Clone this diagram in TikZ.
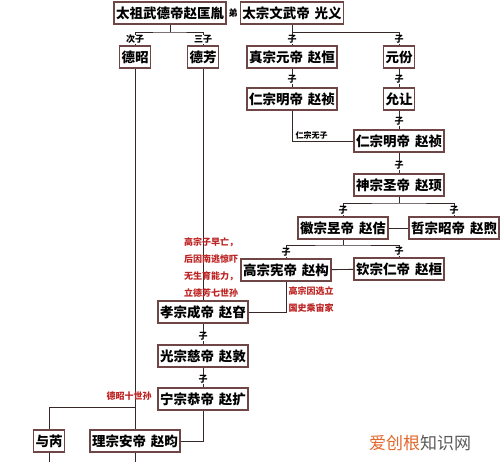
\documentclass[tikz,border=0pt]{standalone}
\usepackage{fontspec}
\usepackage{tikz}
\usetikzlibrary{positioning}
\newfontfamily\cjk{Noto Sans CJK SC}
\definecolor{boxline}{RGB}{110,70,70}
\definecolor{linkline}{RGB}{55,40,40}
\definecolor{notered}{RGB}{190,35,35}
\definecolor{markorange}{RGB}{226,104,44}
\definecolor{markgray}{RGB}{90,90,90}
\newcommand{\gap}{\hspace{5pt}}

\begin{document}
\begin{tikzpicture}[x=1pt,y=-1pt,
    person/.style={draw=boxline,line width=1.1pt,fill=white,minimum height=22pt,inner xsep=2pt,inner ysep=1pt,font=\cjk\bfseries\fontsize{13.5}{13.5}\selectfont},
    sonlab/.style={fill=white,inner sep=0.5pt,font=\cjk\bfseries\fontsize{9}{9}\selectfont},
    note/.style={text=notered,align=center,inner sep=0pt,font=\cjk\bfseries\fontsize{9}{17}\selectfont},
    link/.style={draw=linkline,line width=0.9pt}]
    \fill[white] (0,0) rectangle (500,462);
    \useasboundingbox (0,0) rectangle (500,462);
    \node [person,minimum width=109pt] (taizu) at (170,13) {太祖武德帝赵匡胤};
    \node [person,minimum width=99pt] (taizong) at (292,13) {太宗文武帝\gap 光义};
    \node [person,minimum width=30pt] (dezhao) at (135,57) {德昭};
    \node [person,minimum width=30pt] (defang) at (203,57) {德芳};
    \node [person,minimum width=89pt] (zhenzong) at (292,57) {真宗元帝\gap 赵恒};
    \node [person,minimum width=28pt] (yuanfen) at (399,57) {元份};
    \node [person,minimum width=89pt] (renzong) at (292,99) {仁宗明帝\gap 赵祯};
    \node [person,minimum width=28pt] (yunrang) at (399,99) {允让};
    \node [person,minimum width=85pt] (yingzong) at (399,141) {仁宗明帝\gap 赵祯};
    \node [person,minimum width=85pt] (shenzong) at (399,185) {神宗圣帝\gap 赵顼};
    \node [person,minimum width=89pt] (huizong) at (343,228) {徽宗昱帝\gap 赵佶};
    \node [person,minimum width=88pt] (zhezong) at (454,228) {哲宗昭帝\gap 赵煦};
    \node [person,minimum width=88pt] (gaozong) at (286,270) {高宗宪帝\gap 赵构};
    \node [person,minimum width=88pt] (qinzong) at (399,269) {钦宗仁帝\gap 赵桓};
    \node [person,minimum width=86pt] (xiaozong) at (203,312) {孝宗成帝\gap 赵昚};
    \node [person,minimum width=86pt] (guangzong) at (203,356) {光宗慈帝\gap 赵敦};
    \node [person,minimum width=89pt] (ningzong) at (203,399) {宁宗恭帝\gap 赵扩};
    \node [person,minimum width=86pt] (lizong) at (135,441) {理宗安帝\gap 赵昀};
    \node [person,minimum width=28pt] (yurui) at (49,441) {与芮};
    \coordinate (zhaobar) at (170,32);
    \coordinate (guangbar) at (292,32);
    \coordinate (shenbar) at (399,203);
    \coordinate (huibar) at (343,245);
    \coordinate (ruibar) at (135,407);
    \coordinate (lizongend) at (135,462);
    \coordinate (yuruiend) at (49,462);
    \draw[link] (taizu) -- (zhaobar);
    \draw[link] (dezhao.north) |- (zhaobar) -| (defang.north);
    \draw[link] (taizong) -- (zhenzong);
    \draw[link] (guangbar) -| (yuanfen.north);
    \draw[link] (zhenzong) -- (renzong);
    \draw[link] (yuanfen) -- (yunrang);
    \draw[link] (renzong.south) |- (yingzong.west) node[pos=0.66,above,inner sep=1.5pt,font=\cjk\bfseries\fontsize{8}{8}\selectfont] (wuzi) {仁宗无子};
    \draw[link] (yunrang) -- (yingzong);
    \draw[link] (yingzong) -- (shenzong);
    \draw[link] (shenzong) -- (shenbar);
    \draw[link] (huizong.north) |- (shenbar) -| (zhezong.north);
    \draw[link] (huizong) -- (zhezong);
    \draw[link] (huizong) -- (huibar);
    \draw[link] (gaozong.north) |- (huibar) -| (qinzong.north);
    \draw[link] (gaozong) -- (qinzong);
    \draw[link] (gaozong.south) |- (xiaozong.east);
    \draw[link] (defang) -- (xiaozong);
    \draw[link] (xiaozong) -- (guangzong);
    \draw[link] (guangzong) -- (ningzong);
    \draw[link] (ningzong.south) |- (lizong.east);
    \draw[link] (dezhao) -- (lizong);
    \draw[link] (ruibar) -| (yurui.north);
    \draw[link] (lizong) -- (lizongend);
    \draw[link] (yurui) -- (yuruiend);
    \node [sonlab] (dilab) at (233,13) {弟};
    \node [sonlab,above=1pt of dezhao] (cizi) {次子};
    \node [sonlab,above=1pt of defang] (sanzi) {三子};
    \node [sonlab,above=1pt of zhenzong] (zi1) {子};
    \node [sonlab,above=1pt of yuanfen] (zi2) {子};
    \node [sonlab,above=3pt of renzong] (zi3) {子};
    \node [sonlab,above=3pt of yunrang] (zi4) {子};
    \node [sonlab,above=3pt of yingzong] (zi5) {子};
    \node [sonlab,above=3pt of shenzong] (zi6) {子};
    \node [sonlab,above=1pt of huizong] (zi7) {子};
    \node [sonlab,above=1pt of zhezong] (zi8) {子};
    \node [sonlab,above=1pt of gaozong] (zi9) {子};
    \node [sonlab,above=1pt of qinzong] (zi10) {子};
    \node [sonlab,above=3pt of guangzong] (zi11) {子};
    \node [sonlab,above=3pt of ningzong] (zi12) {子};
    \node [note] (zaowang) at (211,268) {高宗子早亡，\\后因南逃惊吓\\无生育能力，\\立德芳七世孙};
    \node [note] (shiji) at (311,300) {高宗因选立\\国史乘宙家};
    \node [note] (shishisun) at (129,396) {德昭十世孙};
    \node [inner sep=0pt,font=\cjk\fontsize{17}{17}\selectfont] (mark) at (420,443) {\textcolor{markorange}{爱创根}\textcolor{markgray}{知识网}};
\end{tikzpicture}
\end{document}
